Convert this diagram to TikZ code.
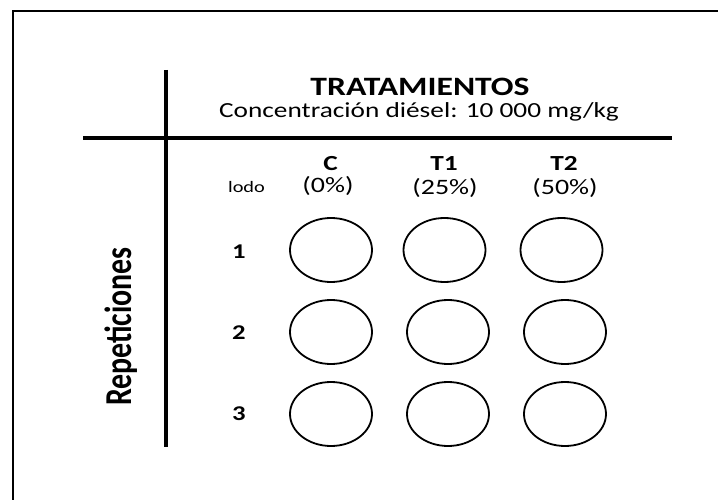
\documentclass[tikz,border=0pt]{standalone}
\usepackage{fontspec}
\setmainfont{Carlito}
\newfontfamily\ancho[FakeStretch=1.27]{Carlito}
\newfontfamily\estrecho[FakeStretch=0.787]{Carlito}
\usetikzlibrary{shapes.geometric}

\begin{document}
\begin{tikzpicture}[x=1pt,y=-1pt,
    well/.style={draw,ellipse,line width=1.8pt,minimum width=82pt,minimum height=64pt,inner sep=0pt},
    rep/.style={font=\ancho\fontsize{21}{23}\selectfont\bfseries,inner sep=0pt,anchor=base},
    trat/.style={font=\ancho\fontsize{21.5}{23}\selectfont\bfseries,inner sep=0pt,anchor=base},
    conc/.style={font=\ancho\fontsize{22}{24}\selectfont,inner sep=0pt,anchor=base}]
      \useasboundingbox (0,0) rectangle (718,500);
      \draw[line width=2pt] (13,500) -- (13,11) -- (718,11);
      \draw[line width=3.5pt] (166,70) -- (166,447);
      \draw[line width=3.5pt] (83,138) -- (672,138);
      \node[font=\ancho\fontsize{26.5}{28}\selectfont\bfseries,inner sep=0pt,anchor=base] (titulo) at (420,96) {TRATAMIENTOS};
      \node[font=\ancho\fontsize{21.5}{24}\selectfont,inner sep=0pt,anchor=base] (dosis) at (419,118) {Concentración diésel: 10 000 mg/kg};
      \node[font=\estrecho\fontsize{38}{40}\selectfont\bfseries,inner sep=0pt,anchor=base,rotate=90] (repet) at (131.5,326.5) {Repeticiones};
      \node[font=\ancho\fontsize{16}{18}\selectfont,inner sep=0pt,anchor=base] (lodo) at (246.5,193) {lodo};
      \node[trat] (c) at (330.5,171) {C};
      \node[trat] (t1) at (444,171) {T1};
      \node[trat] (t2) at (564,171) {T2};
      \node[conc] (pc) at (328,193) {(0\%)};
      \node[conc] (pt1) at (445,194) {(25\%)};
      \node[conc] (pt2) at (565,194) {(50\%)};
      \node[rep] (r1) at (239,258) {1};
      \node[rep] (r2) at (239,339) {2};
      \node[rep] (r3) at (239,420) {3};
      \node[well] (c-1) at (331,250) {};
      \node[well] (t1-1) at (444.5,250) {};
      \node[well] (t2-1) at (561.5,250) {};
      \node[well] (c-2) at (331,332) {};
      \node[well] (t1-2) at (448,332) {};
      \node[well] (t2-2) at (565,332) {};
      \node[well] (c-3) at (331,414) {};
      \node[well] (t1-3) at (448,414) {};
      \node[well] (t2-3) at (565,414) {};
    \end{tikzpicture}
\end{document}
